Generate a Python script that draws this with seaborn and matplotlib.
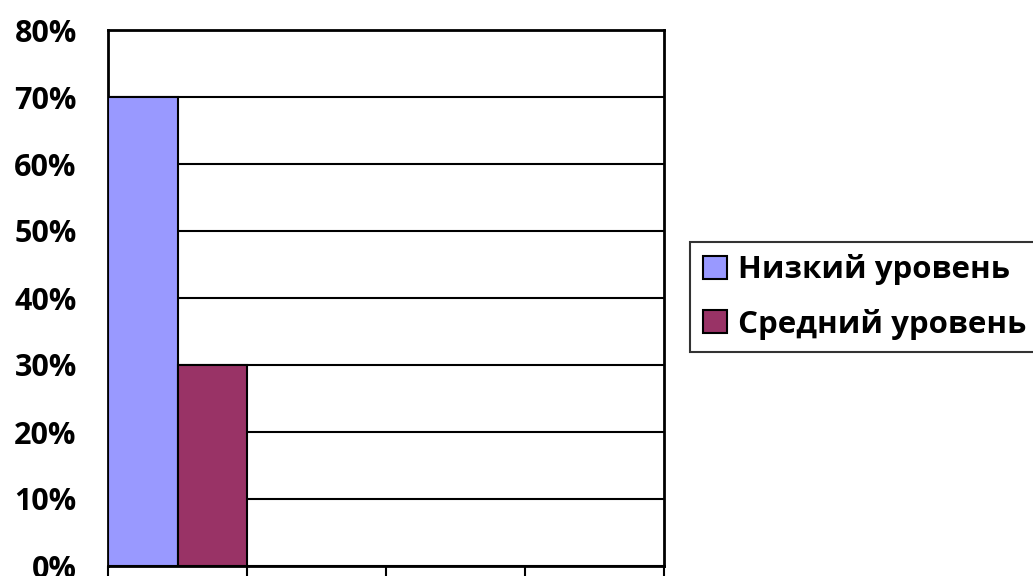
import pandas as pd
import seaborn as sns
import matplotlib.pyplot as plt

# data
categories = ["1", "2", "3", "4"]
levels = ["Низкий уровень", "Средний уровень"]
shares = [0.70, 0.30]
colors = ["#9999FF", "#993366"]

df = pd.DataFrame({
    "cat": [categories[0]] * len(levels),
    "level": levels,
    "share": shares,
})

sns.set_style("white")
plt.rcParams['font.family'] = ['Open Sans', 'DejaVu Sans']
plt.rcParams['font.weight'] = 'bold'
plt.rcParams['text.color'] = 'black'
plt.rcParams['ytick.labelcolor'] = 'black'

fig = plt.figure(figsize=(10.33, 5.76), dpi=100)
ax = fig.add_axes([108 / 1033, 10 / 576, 556 / 1033, 536 / 576])

sns.barplot(data=df, x="cat", y="share", hue="level", order=categories,
            hue_order=levels, palette=colors, saturation=1, width=1.0, gap=0,
            edgecolor="black", linewidth=1.5, legend=True, ax=ax, zorder=3)

ax.set_xlim(-0.5, len(categories) - 0.5)
ax.set_ylim(0, 0.8)
ax.set_yticks([i / 10 for i in range(9)])
ax.set_yticklabels([f"{i * 10}%" for i in range(9)], fontsize=22, fontweight='bold',
                   color='black')
ax.set_xticks([i - 0.5 for i in range(len(categories) + 1)])
ax.set_xticklabels([])
ax.set_xlabel("")
ax.set_ylabel("")
ax.tick_params(axis='both', direction='out', length=8.5, width=1.5, color='black')
ax.tick_params(axis='y', pad=14)
ax.tick_params(axis='x', bottom=True)
ax.yaxis.grid(True, color='black', linewidth=1.5, zorder=0)
ax.set_axisbelow(True)
for s in ax.spines.values():
    s.set_color('black')
    s.set_linewidth(2)

ax.legend_.remove()
leg = fig.legend(*ax.get_legend_handles_labels(), loc='center left',
                 bbox_to_anchor=(690 / 1033, 1 - 297 / 576),
                 prop={'size': 22.5, 'weight': 'bold'}, frameon=True, fancybox=False,
                 handlelength=0.78, handleheight=0.75, handletextpad=0.36,
                 borderpad=0.4, labelspacing=0.75, borderaxespad=0)
leg.get_frame().set_edgecolor('black')
leg.get_frame().set_linewidth(1.5)

fig.savefig("out.png", dpi=100)
